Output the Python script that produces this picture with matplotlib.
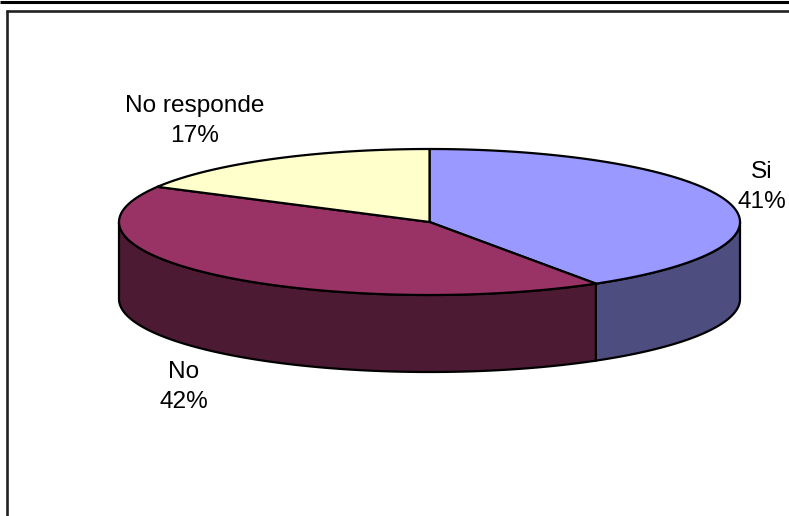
import numpy as np
import matplotlib
matplotlib.use('Agg')
import matplotlib.pyplot as plt
from matplotlib.patches import Polygon

plt.rcParams['font.family'] = ['Liberation Sans', 'DejaVu Sans']

labels = ['Si', 'No', 'No responde']
values = [41, 42, 17]
top_colors = ['#9999FF', '#993366', '#FFFFCC']
side_colors = ['#4D4D80', '#4D1A33', '#808066']
label_pos = [(762, 187), (184, 387), (195, 121)]

# ellipse geometry in pixels
cx, cy = 429.5, 222
rx, ry = 310.5, 73
depth = 77


def ellipse_pts(a0, a1, dy=0):
    # angles are clockwise from the top of the pie, in degrees
    t = np.radians(np.linspace(a0, a1, 200))
    return np.column_stack([cx + rx * np.sin(t), cy - ry * np.cos(t) + dy])


fig = plt.figure(figsize=(7.89, 5.16), dpi=100)
ax = fig.add_axes([0, 0, 1, 1])
ax.set_xlim(0, 789)
ax.set_ylim(516, 0)
ax.axis('off')

# frame
ax.plot([0, 789], [2, 2], color='black', lw=2.2, solid_capstyle='butt')
ax.plot([6.5, 789], [11, 11], color='#222222', lw=1.9, solid_capstyle='butt')
ax.plot([7.5, 7.5], [10, 516], color='#222222', lw=1.9, solid_capstyle='butt')

angles = np.concatenate([[0], np.cumsum(values) / np.sum(values) * 360])

# outer wall, only the part of each slice facing the viewer
for i in range(len(values)):
    a0 = max(angles[i], 90)
    a1 = min(angles[i + 1], 270)
    if a0 >= a1:
        continue
    wall = np.vstack([ellipse_pts(a0, a1), ellipse_pts(a0, a1, depth)[::-1]])
    ax.add_patch(Polygon(wall, closed=True, facecolor=side_colors[i],
                         edgecolor='black', lw=1.6, joinstyle='round'))

# top face
for i in range(len(values)):
    rim = ellipse_pts(angles[i], angles[i + 1])
    top = np.vstack([[cx, cy], rim])
    ax.add_patch(Polygon(top, closed=True, facecolor=top_colors[i],
                         edgecolor='black', lw=1.6, joinstyle='round'))

for name, val, (x, y) in zip(labels, values, label_pos):
    ax.text(x, y, '%s\n%d%%' % (name, val), ha='center', va='center',
            fontsize=17.6, color='black', linespacing=1.5)

fig.savefig('out.png', dpi=100)
